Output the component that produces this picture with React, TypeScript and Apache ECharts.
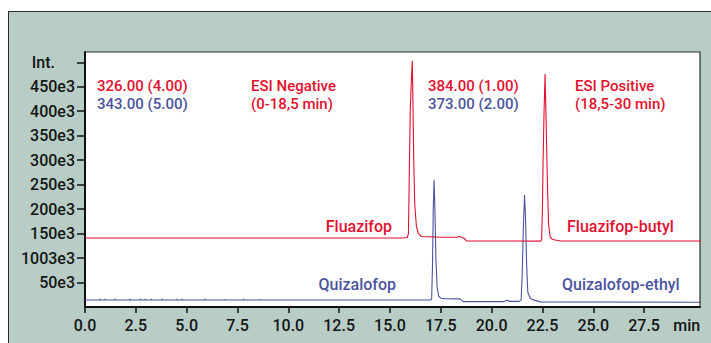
import React, { useEffect, useRef } from 'react';
import * as echarts from 'echarts';

const RED = '#e3102f';
const BLUE = '#4a54a0';
const FONT = 'Roboto, "Noto Sans", sans-serif';

const xTickValues = [0, 2.5, 5, 7.5, 10, 12.5, 15, 17.5, 20, 22.5, 25, 27.5];
const xTickLabels = ['0.0', '2.5', '5.0', '7.5', '10.0', '12.5', '15.0', '17.5', '20.0', '22.5', '25.0', '27.5'];
const xUnitLabel = 'min';
const xUnitPos = 29.6;

const yTickValues = [50000, 100000, 150000, 200000, 250000, 300000, 350000, 400000, 450000, 500000];
const yTickLabels = ['50e3', '1003e3', '150e3', '200e3', '250e3', '300e3', '350e3', '400e3', '450e3', 'Int.'];

// m/z 326 -> 384 trace (red), [time(min), intensity]
const fluazifopTrace: [number, number][] = [
  [0, 141000], [15.6, 141000], [15.85, 142000], [15.91, 150000], [15.96, 300000], [16.0, 403000],
  [16.06, 470000], [16.1, 503000], [16.13, 420000], [16.17, 300000], [16.22, 210000], [16.3, 165000],
  [16.4, 150000], [16.55, 144000], [17.5, 142500], [18.3, 142500], [18.38, 144000], [18.5, 143000],
  [18.62, 141000], [18.77, 135000], [22.4, 134500], [22.46, 137000], [22.5, 200000], [22.53, 294000],
  [22.58, 400000], [22.63, 476000], [22.68, 380000], [22.74, 260000], [22.8, 170000], [22.88, 143000],
  [23.0, 138000], [23.4, 135000], [30.3, 135000],
];

// m/z 343 -> 373 trace (blue)
const quizalofopTrace: [number, number][] = [
  [0, 14300], [0.72, 14300], [0.74, 16500], [0.76, 14300], [0.96, 14300], [0.98, 16500], [1.0, 14300],
  [1.46, 14300], [1.48, 16500], [1.5, 14300], [2.18, 14300], [2.2, 16500], [2.22, 14300],
  [2.7, 14300], [2.72, 16500], [2.76, 14300], [2.95, 14300], [2.97, 16500], [3.0, 14300],
  [3.25, 14300], [3.27, 16500], [3.3, 14300], [3.78, 14300], [3.8, 16500], [3.82, 14300],
  [4.5, 14300], [4.52, 16500], [4.54, 14300], [4.76, 14300], [4.78, 16500], [4.8, 14300],
  [5.88, 14300], [5.9, 16500], [5.92, 14300], [6.88, 14300], [6.9, 16000], [6.92, 14300],
  [7.78, 14300], [7.8, 16500], [7.82, 14300], [8.58, 14300], [8.6, 16000], [8.62, 14300],
  [16.95, 14300], [17.05, 16000], [17.09, 80000], [17.13, 200000], [17.17, 260000], [17.21, 200000],
  [17.26, 100000], [17.32, 40000], [17.4, 22000], [17.5, 18000], [17.7, 17000], [18.45, 16500],
  [18.6, 11000], [20.6, 11000], [20.74, 14000], [20.9, 11500], [21.35, 11500], [21.45, 14000],
  [21.5, 60000], [21.56, 160000], [21.62, 229000], [21.67, 180000], [21.72, 90000], [21.78, 30000],
  [21.9, 18000], [22.05, 14500], [22.4, 10500], [30.3, 9600],
];

const annotations: { text: string; x: number; y: number; color: string; align: string; size: number }[] = [
  { text: '326.00 (4.00)', x: 97, y: 85.5, color: RED, align: 'left', size: 15 },
  { text: '343.00 (5.00)', x: 97, y: 104, color: BLUE, align: 'left', size: 15 },
  { text: 'ESI Negative', x: 251, y: 85.5, color: RED, align: 'left', size: 15 },
  { text: '(0-18,5 min)', x: 251, y: 104, color: RED, align: 'left', size: 15 },
  { text: '384.00 (1.00)', x: 428, y: 85.5, color: RED, align: 'left', size: 15 },
  { text: '373.00 (2.00)', x: 428, y: 104, color: BLUE, align: 'left', size: 15 },
  { text: 'ESI Positive', x: 575, y: 85.5, color: RED, align: 'left', size: 15 },
  { text: '(18,5-30 min)', x: 575, y: 104, color: RED, align: 'left', size: 15 },
  { text: 'Fluazifop', x: 392, y: 226, color: RED, align: 'right', size: 16 },
  { text: 'Quizalofop', x: 396, y: 284, color: BLUE, align: 'right', size: 16 },
  { text: 'Fluazifop-butyl', x: 567, y: 226, color: RED, align: 'left', size: 16 },
  { text: 'Quizalofop-ethyl', x: 562, y: 284, color: BLUE, align: 'left', size: 16 },
];

export default function App() {
  const ref = useRef<HTMLDivElement>(null);

  useEffect(() => {
    if (!ref.current) return;
    const chart = echarts.init(ref.current, undefined, { renderer: 'svg' });
    const option: any = {
      animation: false,
      grid: {
        left: 85,
        right: 11,
        top: 52,
        bottom: 36,
        show: true,
        backgroundColor: '#ffffff',
        borderColor: '#2a2a2a',
        borderWidth: 1.2,
      },
      xAxis: {
        type: 'value',
        min: 0,
        max: 30.25,
        splitLine: { show: false },
        axisLine: { show: true, onZero: false, lineStyle: { color: '#111', width: 2 } },
        axisTick: {
          show: true,
          customValues: xTickValues,
          length: 6,
          lineStyle: { color: '#111', width: 1.5 },
        },
        axisLabel: {
          customValues: [...xTickValues, xUnitPos],
          margin: 10,
          color: '#151515',
          fontFamily: FONT,
          fontSize: 16,
          fontWeight: 500,
          formatter: (v: number) => {
            if (Math.abs(v - xUnitPos) < 1e-6) return xUnitLabel;
            const i = xTickValues.findIndex((t) => Math.abs(t - v) < 1e-6);
            return i >= 0 ? xTickLabels[i] : '';
          },
        },
      },
      yAxis: {
        type: 'value',
        min: 0,
        max: 521000,
        splitLine: { show: false },
        axisLine: { show: true, onZero: false, lineStyle: { color: '#111', width: 2 } },
        axisTick: {
          show: true,
          customValues: yTickValues,
          length: 8,
          lineStyle: { color: '#111', width: 1.5 },
        },
        axisLabel: {
          customValues: yTickValues,
          margin: 10,
          color: '#151515',
          fontFamily: FONT,
          fontSize: 16,
          fontWeight: 500,
          formatter: (v: number) => {
            const i = yTickValues.findIndex((t) => Math.abs(t - v) < 1e-6);
            if (i < 0) return '';
            const s = yTickLabels[i];
            return s === 'Int.' ? '{int|Int.}' : s;
          },
          rich: {
            int: {
              fontFamily: FONT,
              fontSize: 16,
              fontWeight: 500,
              color: '#151515',
              padding: [0, 20, 0, 0],
            },
          },
        },
      },
      series: [
        {
          name: 'Fluazifop',
          type: 'line',
          data: fluazifopTrace,
          showSymbol: false,
          symbol: 'none',
          lineStyle: { color: RED, width: 1.1 },
          itemStyle: { color: RED },
          z: 3,
        },
        {
          name: 'Quizalofop',
          type: 'line',
          data: quizalofopTrace,
          showSymbol: false,
          symbol: 'none',
          lineStyle: { color: BLUE, width: 1.1 },
          itemStyle: { color: BLUE },
          z: 2,
        },
      ],
      graphic: annotations.map((a) => ({
        type: 'text',
        x: a.x,
        y: a.y,
        z: 10,
        style: {
          text: a.text,
          fill: a.color,
          font: `500 ${a.size}px ${FONT}`,
          textAlign: a.align,
          align: a.align,
          textVerticalAlign: 'middle',
          verticalAlign: 'middle',
        },
      })),
    };
    chart.setOption(option);
    return () => chart.dispose();
  }, []);

  return (
    <div style={{ position: 'absolute', left: 0, top: 0, width: 711, height: 343, background: '#ffffff', overflow: 'hidden' }}>
      <div
        style={{
          position: 'absolute',
          left: 8,
          top: 11,
          width: 720,
          height: 360,
          background: '#b7cdc6',
          border: '1.5px solid #2b2b2b',
        }}
      />
      <div ref={ref} style={{ position: 'absolute', left: 0, top: 0, width: 711, height: 343 }} />
    </div>
  );
}
